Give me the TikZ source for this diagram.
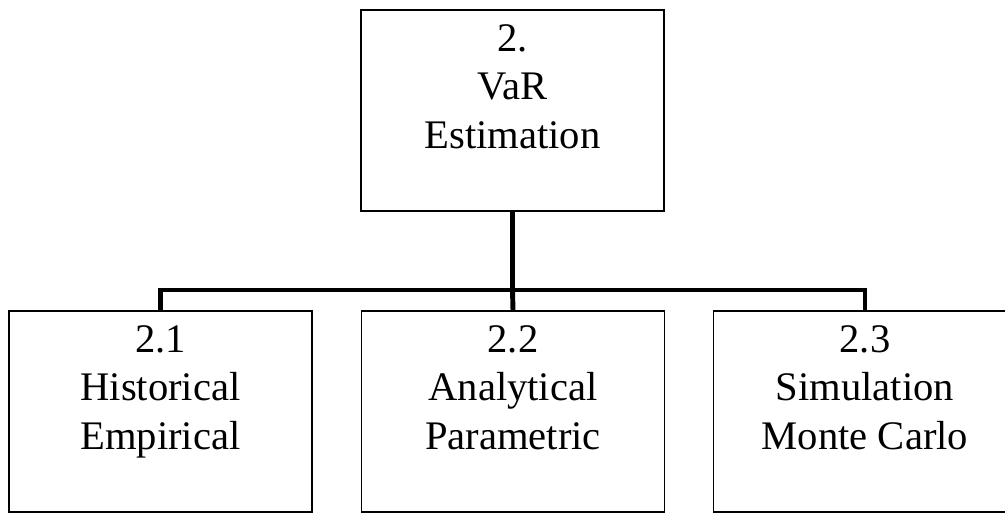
\documentclass[tikz,border=0pt]{standalone}
\usepackage{fontspec}
\setmainfont{Liberation Serif}
\usepackage{tikz}

\begin{document}
\begin{tikzpicture}[x=0.02cm,y=-0.02cm,
    box/.style={draw,line width=0.85pt,minimum width=6.06cm,minimum height=4.02cm,
      align=center,inner sep=0pt,font=\fontsize{23.1}{27.5}\selectfont},
    link/.style={line width=2.8pt}]
    \useasboundingbox (0,0) rectangle (1005,513);
    \node[box] (var) at (512.5,110.5) {2.\\VaR\\Estimation\\~};
    \node[box] (hist) at (160.5,411.5) {2.1\\Historical\\Empirical\\~};
    \node[box] (ana) at (513,411.5) {2.2\\Analytical\\Parametric\\~};
    \node[box] (mc) at (865,411.5) {2.3\\Simulation\\Monte Carlo\\~};
    \coordinate (bus) at (512.5,290);
    \draw[link] (var.south) -- (bus);
    \draw[link] (bus) -| (hist.north);
    \draw[link] (bus) -- (ana.north);
    \draw[link] (bus) -| (mc.north);
\end{tikzpicture}
\end{document}
